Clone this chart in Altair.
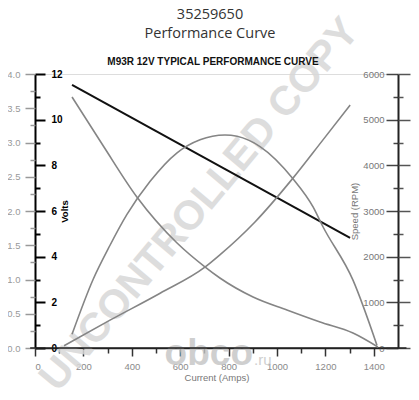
import altair as alt
import pandas as pd

# ---- data ----
current_volts = [153, 1302]
volts = [11.52, 4.82]

current_speed = [153, 285, 421, 587, 702, 764, 901, 1041, 1178, 1314, 1417]
speed_rpm = [5496, 4401, 3307, 2299, 1777, 1533, 1117, 832, 569, 328, 22]

current_power = [153, 240, 310, 380, 475, 587, 682, 785, 835, 930, 1066, 1149, 1190, 1314, 1413]
power = [0.20, 1.00, 1.50, 1.95, 2.43, 2.85, 3.04, 3.11, 3.09, 2.94, 2.47, 2.06, 1.77, 0.99, 0.04]

current_torque = [120, 310, 517, 702, 764, 909, 1066, 1186, 1302]
torque = [0.05, 0.61, 1.20, 1.77, 2.04, 2.76, 3.72, 4.53, 5.32]

x_ticks = list(range(0, 1500, 100))
x_line = [-20, 1535]
volt_ticks = list(range(0, 13))
rpm_ticks = list(range(0, 6001, 500))
left_ticks = [i * 0.25 for i in range(17)]
right_ticks = [i * 0.5 for i in range(13)]

W, H = 363, 274
FONT = "Liberation Sans"

df_v = pd.DataFrame({"current": current_volts, "volts": volts})
df_s = pd.DataFrame({"current": current_speed, "rpm": speed_rpm})
df_p = pd.DataFrame({"current": current_power, "power": power})
df_t = pd.DataFrame({"current": current_torque, "torque": torque})
df_line = pd.DataFrame({"current": [x_line[0]], "current_end": [x_line[1]]})

xscale = alt.Scale(domain=[0, 1500], nice=False, zero=False)

x_axis = alt.Axis(
    values=x_ticks, format="d",
    labelExpr="datum.value % 200 === 0 ? datum.label : ''",
    tickSize={"condition": {"test": "datum.value % 200 === 0", "value": 8}, "value": 5},
    tickColor="#333", tickWidth=1.5, domainColor="#222", domainWidth=1.5,
    labelColor="#8a8a8a", labelFontSize=9.5, labelFont=FONT, labelPadding=5,
    title="Current (Amps)", titleColor="#777", titleFontSize=9.5, titleFont=FONT,
    titleFontWeight="normal", titlePadding=2, grid=False,
)


def xenc():
    return alt.X("current:Q", scale=xscale, axis=x_axis)


baseline_layer = alt.Chart(df_line).mark_rule(color="#222", strokeWidth=1.5).encode(
    x=xenc(), x2="current_end:Q", y=alt.value(H),
)

volts_layer = alt.Chart(df_v).mark_line(color="#111", strokeWidth=2).encode(
    x=xenc(),
    y=alt.Y("volts:Q", scale=alt.Scale(domain=[0, 12], nice=False),
            axis=alt.Axis(
                orient="right", offset=-W, values=volt_ticks, format="d",
                labelExpr="datum.value % 2 === 0 ? datum.label : ''",
                tickSize={"condition": {"test": "datum.value % 2 === 0", "value": 10}, "value": 5},
                tickColor="#000", tickWidth=2, domainColor="#000", domainWidth=2,
                labelColor="#000", labelFontWeight="bold", labelFontSize=10, labelFont=FONT,
                labelPadding=6,
                title="Volts", titleAngle=270, titleFontWeight="bold", titleFontSize=9.5,
                titleColor="#000", titleFont=FONT, titlePadding=7, grid=False)),
)

speed_layer = alt.Chart(df_s).mark_line(color="#858585", strokeWidth=1.6, interpolate="monotone").encode(
    x=xenc(),
    y=alt.Y("rpm:Q", scale=alt.Scale(domain=[0, 6000], nice=False),
            axis=alt.Axis(
                orient="left", offset=-W, values=rpm_ticks, format="d",
                labelExpr="datum.value % 1000 === 0 ? datum.label : ''",
                tickSize={"condition": {"test": "datum.value % 1000 === 0", "value": 12}, "value": 5},
                tickColor="#444", tickWidth=1.5, domainColor="#222", domainWidth=2,
                labelColor="#777", labelFontSize=9.5, labelFont=FONT, labelPadding=2,
                title="Speed (RPM)", titleColor="#777", titleFontSize=9.5, titleFont=FONT,
                titleFontWeight="normal", titlePadding=3, grid=False)),
)

power_layer = alt.Chart(df_p).mark_line(color="#858585", strokeWidth=1.6, interpolate="monotone").encode(
    x=xenc(),
    y=alt.Y("power:Q", scale=alt.Scale(domain=[0, 4], nice=False),
            axis=alt.Axis(
                orient="left", offset=0, values=left_ticks,
                labelExpr="datum.value % 0.5 === 0 ? datum.label : ''",
                tickSize={"condition": {"test": "datum.value % 0.5 === 0", "value": 10}, "value": 5},
                tickColor="#999", tickWidth=1.5, domain=False,
                labelColor="#999", labelFontSize=9.5, labelFont=FONT, labelPadding=5,
                title=None, grid=False)),
)

torque_layer = alt.Chart(df_t).mark_line(color="#858585", strokeWidth=1.6, interpolate="monotone").encode(
    x=xenc(),
    y=alt.Y("torque:Q", scale=alt.Scale(domain=[0, 6], nice=False),
            axis=alt.Axis(
                orient="right", offset=0, values=right_ticks,
                labelExpr="datum.value % 1 === 0 ? datum.label : ''",
                tickSize={"condition": {"test": "datum.value % 1 === 0", "value": 12}, "value": 5},
                tickColor="#555", tickWidth=1.5, domain=False,
                labelColor="#777", labelFontSize=9.5, labelFont=FONT, labelPadding=3,
                title=None, grid=False)),
)

# ---- texts (positions relative to the plot area's top-left corner) ----
watermark = alt.Chart(pd.DataFrame({"t": ["UNCONTROLLED COPY"]})).mark_text(
    angle=310, fontSize=41, fontWeight="bold", font=FONT, color="#d8d8d8", opacity=0.85,
    align="center", baseline="middle",
).encode(text="t:N", x=alt.value(165), y=alt.value(131))

logo = alt.Chart(pd.DataFrame({"t": ["obco"]})).mark_text(
    fontSize=37, fontWeight="bold", font=FONT, color="#c4c4c4", opacity=0.8,
    align="right", baseline="alphabetic",
).encode(text="t:N", x=alt.value(218), y=alt.value(291))

logo_ru = alt.Chart(pd.DataFrame({"t": [".ru"]})).mark_text(
    fontSize=15, font=FONT, color="#c4c4c4", opacity=0.8,
    align="left", baseline="alphabetic",
).encode(text="t:N", x=alt.value(219), y=alt.value(291))

top1 = alt.Chart(pd.DataFrame({"t": ["35259650"]})).mark_text(
    fontSize=14.5, font="Open Sans", color="#333", align="center", baseline="alphabetic",
).encode(text="t:N", x=alt.value(175), y=alt.value(-55))

top2 = alt.Chart(pd.DataFrame({"t": ["Performance Curve"]})).mark_text(
    fontSize=14.5, font="Open Sans", color="#333", align="center", baseline="alphabetic",
).encode(text="t:N", x=alt.value(175), y=alt.value(-36))

ctitle = alt.Chart(pd.DataFrame({"t": ["M93R 12V TYPICAL PERFORMANCE CURVE"]})).mark_text(
    fontSize=10, font=FONT, fontWeight="bold", color="#111", align="center", baseline="alphabetic",
).encode(text="t:N", x=alt.value(178), y=alt.value(-9))

chart = alt.layer(
    watermark, logo, logo_ru, baseline_layer,
    volts_layer, speed_layer, power_layer, torque_layer,
    top1, top2, ctitle,
).resolve_scale(y="independent").properties(
    width=W, height=H,
    autosize=alt.AutoSizeParams(type="none"),
    padding={"left": 27, "top": 66, "right": 13, "bottom": 44},
).configure_view(stroke=None).configure(background="white")

chart.save("out.html", embed_options={"renderer": "svg", "actions": False})
